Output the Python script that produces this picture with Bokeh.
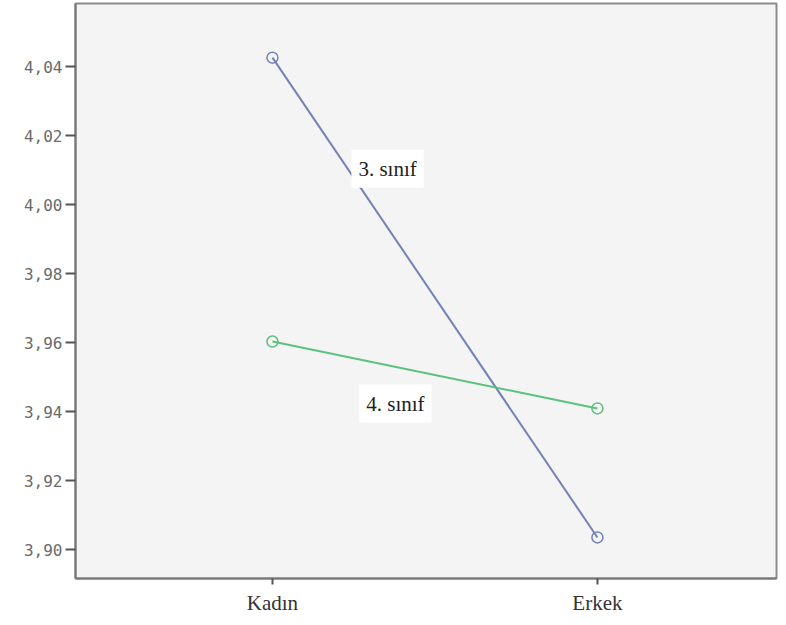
from bokeh.plotting import figure
from bokeh.models import Range1d, FixedTicker, Label
from bokeh.embed import file_html
from bokeh.resources import INLINE

# ---- data ----
categories = ["Kadın", "Erkek"]
cat_pos = [1, 2]
sinif3 = [4.0426, 3.9035]
sinif4 = [3.9603, 3.9409]
series_names = ["3. sınıf", "4. sınıf"]
y_ticks = [3.90, 3.92, 3.94, 3.96, 3.98, 4.00, 4.02, 4.04]
y_tick_labels = ["3,90", "3,92", "3,94", "3,96", "3,98", "4,00", "4,02", "4,04"]

p = figure(width=778, height=617, output_backend="svg", toolbar_location=None,
           x_range=Range1d(0.394, 2.551), y_range=Range1d(3.8916, 4.0583),
           min_border_left=75, min_border_top=3, min_border_bottom=39, min_border_right=2)
p.background_fill_color = "#f4f4f4"
p.border_fill_color = "white"
p.outline_line_color = "#8a8a8a"
p.outline_line_width = 2
p.xgrid.visible = False
p.ygrid.visible = False

# y axis
p.yaxis.ticker = FixedTicker(ticks=y_ticks)
p.yaxis.major_label_overrides = {t: l for t, l in zip(y_ticks, y_tick_labels)}
p.yaxis.major_label_text_font = "DejaVu Sans Mono"
p.yaxis.major_label_text_font_size = "16px"
p.yaxis.major_label_text_color = "#6a6a6a"
p.yaxis.major_label_standoff = 3
p.yaxis.major_tick_in = 0
p.yaxis.major_tick_out = 10
p.yaxis.major_tick_line_color = "#555555"
p.yaxis.major_tick_line_width = 2
p.yaxis.minor_tick_line_color = None
p.yaxis.axis_line_color = "#777777"
p.yaxis.axis_line_width = 2

# x axis
p.xaxis.ticker = FixedTicker(ticks=cat_pos)
p.xaxis.major_label_overrides = {c: n for c, n in zip(cat_pos, categories)}
p.xaxis.major_label_text_font = "Liberation Serif"
p.xaxis.major_label_text_font_size = "21px"
p.xaxis.major_label_text_color = "#333333"
p.xaxis.major_label_standoff = 6
p.xaxis.major_tick_in = 0
p.xaxis.major_tick_out = 6
p.xaxis.major_tick_line_color = "#555555"
p.xaxis.major_tick_line_width = 2
p.xaxis.minor_tick_line_color = None
p.xaxis.axis_line_color = "#777777"
p.xaxis.axis_line_width = 2

c3 = "#7282b8"
c4 = "#5cc07e"
p.line(cat_pos, sinif3, line_color=c3, line_width=2)
p.scatter(cat_pos, sinif3, marker="circle", size=11, fill_color=None, line_color=c3, line_width=1.5)
p.line(cat_pos, sinif4, line_color=c4, line_width=2)
p.scatter(cat_pos, sinif4, marker="circle", size=11, fill_color=None, line_color=c4, line_width=1.5)

p.add_layout(Label(x=1.243, y=4.0104, text=series_names[0], text_font="Liberation Serif",
                   text_font_size="21px", text_color="#222222", text_baseline="middle",
                   background_fill_color="white", padding=7))
p.add_layout(Label(x=1.267, y=3.9423, text=series_names[1], text_font="Liberation Serif",
                   text_font_size="21px", text_color="#222222", text_baseline="middle",
                   background_fill_color="white", padding=7))

open("out.html", "w").write(file_html(p, INLINE))
